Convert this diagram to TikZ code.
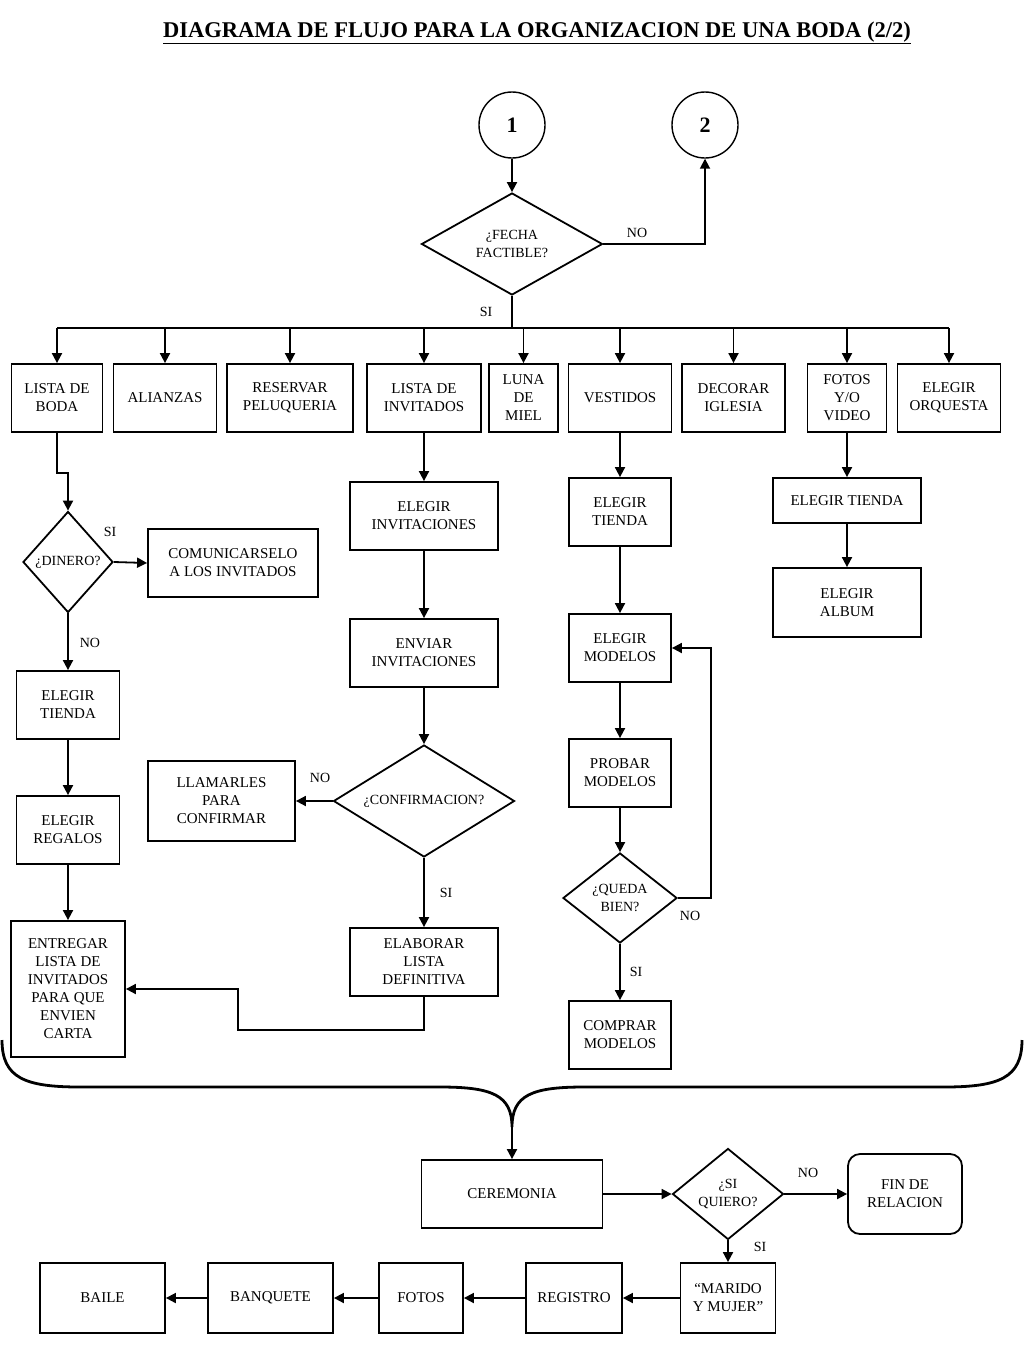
\documentclass[tikz,border=0pt]{standalone}
\usepackage{fontspec}
\setmainfont{Liberation Serif}
\usetikzlibrary{shapes.geometric,arrows.meta}

\begin{document}
\begin{tikzpicture}[x=1pt, y=-1pt,
  box/.style={draw, line width=1.8pt, align=center, inner sep=2pt,
    font=\fontsize{15}{18}\selectfont},
  dec/.style={draw, diamond, line width=1.8pt, align=center, inner sep=0pt,
    font=\fontsize{14}{18}\selectfont},
  con/.style={draw, circle, line width=1.4pt, minimum size=66pt,
    font=\fontsize{22}{24}\selectfont\bfseries},
  lbl/.style={font=\fontsize{14}{16}\selectfont},
  arr/.style={line width=1.8pt, -{Triangle[length=10pt,width=10pt]}},
  ln/.style={line width=1.8pt}]

\useasboundingbox (0,0) rectangle (1024,1365);

\node[font=\fontsize{22.5}{26}\selectfont\bfseries] (title) at (537,33)
  {\underline{DIAGRAMA DE FLUJO PARA LA ORGANIZACION DE UNA BODA (2/2)}};

% conectores y primera decision
\node[con] (c1) at (512,125) {1};
\node[con] (c2) at (705,125) {2};
\node[dec, aspect=1.77, minimum width=181, minimum height=102] (fecha) at (512,244) {¿FECHA\\FACTIBLE?};
\coordinate (bus) at (512,328);

\draw[arr] (c1) -- (fecha);
\draw[arr] (fecha.east) -| (c2.south);
\draw[ln] (fecha.south) -- (bus);
\node[lbl] (nofecha) at (637,233) {NO};
\node[lbl] (sifecha) at (486,312) {SI};

% fila de tareas
\node[box, minimum width=91, minimum height=68] (boda) at (57,398) {LISTA DE\\BODA};
\node[box, minimum width=103, minimum height=68] (alianzas) at (165,398) {ALIANZAS};
\node[box, minimum width=126, minimum height=68] (pelu) at (290,398) {RESERVAR\\PELUQUERIA};
\node[box, minimum width=114, minimum height=68] (invit) at (424,398) {LISTA DE\\INVITADOS};
\node[box, minimum width=69, minimum height=68] (luna) at (523.5,398) {LUNA\\DE\\MIEL};
\node[box, minimum width=103, minimum height=68] (vest) at (620,398) {VESTIDOS};
\node[box, minimum width=103, minimum height=68] (decor) at (733.5,398) {DECORAR\\IGLESIA};
\node[box, minimum width=79, minimum height=68] (fotos) at (847,398) {FOTOS\\Y/O\\VIDEO};
\node[box, minimum width=103, minimum height=68] (orq) at (949,398) {ELEGIR\\ORQUESTA};

\draw[ln] (boda.north |- bus) -- (orq.north |- bus);
\draw[arr] (boda.north |- bus) -- (boda);
\draw[arr] (alianzas.north |- bus) -- (alianzas);
\draw[arr] (pelu.north |- bus) -- (pelu);
\draw[arr] (invit.north |- bus) -- (invit);
\draw[arr] (luna.north |- bus) -- (luna);
\draw[arr] (vest.north |- bus) -- (vest);
\draw[arr] (decor.north |- bus) -- (decor);
\draw[arr] (fotos.north |- bus) -- (fotos);
\draw[arr] (orq.north |- bus) -- (orq);

% lista de boda
\node[dec, aspect=0.89, minimum width=90, minimum height=101] (dinero) at (68,562) {¿DINERO?};
\node[box, minimum width=170, minimum height=68] (comunic) at (233,563) {COMUNICARSELO\\A LOS INVITADOS};
\node[box, minimum width=103, minimum height=68] (tienda1) at (68,705) {ELEGIR\\TIENDA};
\node[box, minimum width=103, minimum height=68] (regalos) at (68,830) {ELEGIR\\REGALOS};
\node[box, minimum width=114, minimum height=136] (entregar) at (68,989)
  {ENTREGAR\\LISTA DE\\INVITADOS\\PARA QUE\\ENVIEN\\CARTA};

\draw[arr] (boda.south) -- ++(0,40) -| (dinero.north);
\draw[arr] (dinero.east) -- (comunic.west);
\draw[arr] (dinero.south) -- (tienda1);
\draw[arr] (tienda1) -- (regalos);
\draw[arr] (regalos) -- (entregar);
\node[lbl] (sidinero) at (110,532) {SI};
\node[lbl] (nodinero) at (90,643) {NO};

% lista de invitados
\node[box, minimum width=148, minimum height=68] (eleginv) at (424,516) {ELEGIR\\INVITACIONES};
\node[box, minimum width=148, minimum height=68] (enviar) at (424,653) {ENVIAR\\INVITACIONES};
\node[dec, aspect=1.6, minimum width=181, minimum height=112] (confirm) at (424,801) {¿CONFIRMACION?};
\node[box, minimum width=147, minimum height=80] (llamar) at (221.5,801) {LLAMARLES\\PARA\\CONFIRMAR};
\node[box, minimum width=148, minimum height=68] (elab) at (424,962) {ELABORAR\\LISTA\\DEFINITIVA};

\draw[arr] (invit) -- (eleginv);
\draw[arr] (eleginv) -- (enviar);
\draw[arr] (enviar) -- (confirm);
\draw[arr] (confirm.west) -- (llamar.east);
\draw[arr] (confirm.south) -- (elab);
\draw[arr] (elab.south) |- (238,1030) |- (entregar.east);
\node[lbl] (noconf) at (320,778) {NO};
\node[lbl] (siconf) at (446,893) {SI};

% vestidos
\node[box, minimum width=102, minimum height=68] (tienda2) at (620,512) {ELEGIR\\TIENDA};
\node[box, minimum width=102, minimum height=68] (modelos) at (620,648) {ELEGIR\\MODELOS};
\node[box, minimum width=102, minimum height=68] (probar) at (620,773) {PROBAR\\MODELOS};
\node[dec, aspect=1.27, minimum width=114, minimum height=90] (queda) at (620,898) {¿QUEDA\\BIEN?};
\node[box, minimum width=102, minimum height=68] (comprar) at (620,1035) {COMPRAR\\MODELOS};

\draw[arr] (vest) -- (tienda2);
\draw[arr] (tienda2) -- (modelos);
\draw[arr] (modelos) -- (probar);
\draw[arr] (probar) -- (queda);
\draw[arr] (queda.east) -- (711,898) |- (modelos.east);
\draw[arr] (queda.south) -- (comprar);
\node[lbl] (noqueda) at (690,916) {NO};
\node[lbl] (siqueda) at (636,972) {SI};

% fotos y video
\node[box, minimum width=148, minimum height=45] (tienda3) at (847,500.5) {ELEGIR TIENDA};
\node[box, minimum width=148, minimum height=69] (album) at (847,602.5) {ELEGIR\\ALBUM};

\draw[arr] (fotos) -- (tienda3);
\draw[arr] (tienda3) -- (album);

% llave
\draw[line width=2.8pt] (2,1040) .. controls (2,1078) and (25,1087) .. (80,1087)
  -- (440,1087) .. controls (492,1087) and (512,1095) .. (512,1127)
  .. controls (512,1095) and (532,1087) .. (584,1087) -- (944,1087)
  .. controls (999,1087) and (1022,1078) .. (1022,1040);
\coordinate (tip) at (512,1127);

% ceremonia
\node[box, minimum width=181, minimum height=68] (cer) at (512,1194) {CEREMONIA};
\node[dec, aspect=1.22, minimum width=111, minimum height=91] (quiero) at (728,1194) {¿SI\\QUIERO?};
\node[box, rounded corners=12pt, minimum width=114, minimum height=80] (fin) at (905,1194) {FIN DE\\RELACION};
\node[box, minimum width=95, minimum height=70] (marido) at (728,1298) {“MARIDO\\Y MUJER”};
\node[box, minimum width=96, minimum height=70] (registro) at (574,1298) {REGISTRO};
\node[box, minimum width=84, minimum height=70] (fotos2) at (421,1298) {FOTOS};
\node[box, minimum width=125, minimum height=70] (banquete) at (270.5,1298) {BANQUETE};
\node[box, minimum width=125, minimum height=70] (baile) at (102.5,1298) {BAILE};

\draw[arr] (tip) -- (cer);
\draw[arr] (cer) -- (quiero);
\draw[arr] (quiero) -- (fin);
\draw[arr] (quiero.south) -- (marido);
\draw[arr] (marido) -- (registro);
\draw[arr] (registro) -- (fotos2);
\draw[arr] (fotos2) -- (banquete);
\draw[arr] (banquete) -- (baile);
\node[lbl] (noquiero) at (808,1173) {NO};
\node[lbl] (siquiero) at (760,1247) {SI};

\end{tikzpicture}
\end{document}
